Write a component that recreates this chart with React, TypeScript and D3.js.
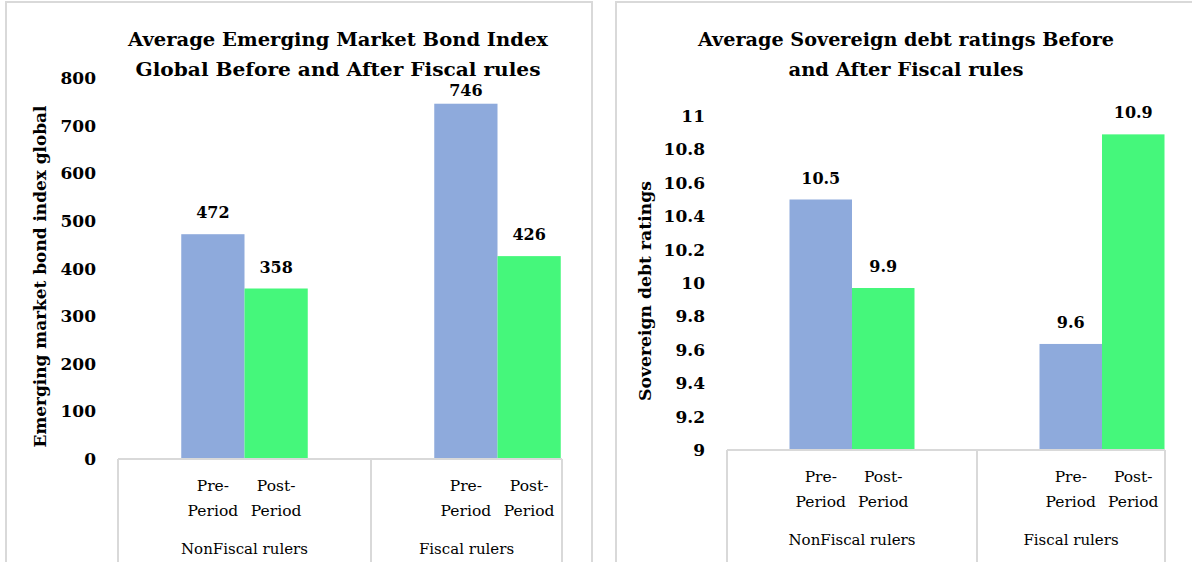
import React, { useEffect, useRef } from "react";
import * as d3 from "d3";

// groups and series shared by both charts
const groups = ["NonFiscal rulers", "Fiscal rulers"];
const periods = ["Pre-", "Post-"];
const colors = ["#8eaadc", "#45f77b"];

// chart 1: Emerging market bond index global
const embiPre = [472, 746];
const embiPost = [358, 426];
const embiTicks = [0, 100, 200, 300, 400, 500, 600, 700, 800];

// chart 2: Sovereign debt ratings
const ratingPre = [10.5, 9.635];
const ratingPost = [9.97, 10.89];
const ratingLabelsPre = ["10.5", "9.6"];
const ratingLabelsPost = ["9.9", "10.9"];
const ratingTicks = [9, 9.2, 9.4, 9.6, 9.8, 10, 10.2, 10.4, 10.6, 10.8, 11];

const FONT = "'DejaVu Serif', serif";
const GRID = "#d9d9d9";

type PanelProps = {
  left: number;
  right: number;
  title: string[];
  titleWidth: number[];
  titleX: number;
  yTitle: string;
  yTitleX: number;
  yTitleLen: number;
  tickX: number;
  ticks: number[];
  tickFmt: (v: number) => string;
  domain: [number, number];
  yRange: [number, number];
  xStart: number;
  step: number;
  clipRight: number;
  labelMin: number;
  pre: number[];
  post: number[];
  preLabels: string[];
  postLabels: string[];
};

function drawPanel(g: d3.Selection<SVGGElement, unknown, null, undefined>, p: PanelProps) {
  // panel frame
  g.append("rect")
    .attr("x", p.left)
    .attr("y", 2)
    .attr("width", p.right - p.left)
    .attr("height", 600)
    .attr("fill", "#fff")
    .attr("stroke", GRID)
    .attr("stroke-width", 2);

  // title
  p.title.forEach((line, i) => {
    g.append("text")
      .attr("x", p.titleX)
      .attr("y", 46 + i * 30)
      .attr("text-anchor", "middle")
      .attr("textLength", p.titleWidth[i])
      .attr("lengthAdjust", "spacingAndGlyphs")
      .style("font-family", FONT)
      .style("font-size", "18px")
      .style("font-weight", "bold")
      .text(line);
  });

  const y = d3.scaleLinear().domain(p.domain).range(p.yRange);
  const x = d3
    .scaleBand()
    .domain(groups)
    .range([p.xStart, p.xStart + p.step * groups.length]);
  const xs = d3
    .scaleBand()
    .domain(periods)
    .range([0, x.bandwidth()])
    .paddingOuter(1)
    .paddingInner(0);

  // y tick labels
  g.selectAll(null)
    .data(p.ticks)
    .enter()
    .append("text")
    .attr("x", p.tickX)
    .attr("y", (d) => y(d) + 6)
    .attr("text-anchor", "end")
    .style("font-family", FONT)
    .style("font-size", "17px")
    .style("font-weight", "bold")
    .text((d) => p.tickFmt(d));

  // y axis title
  const yMid = (p.yRange[0] + p.yRange[1]) / 2 + 8;
  g.append("text")
    .attr("transform", `translate(${p.yTitleX},${yMid}) rotate(-90)`)
    .attr("text-anchor", "middle")
    .attr("textLength", p.yTitleLen)
    .attr("lengthAdjust", "spacingAndGlyphs")
    .style("font-family", FONT)
    .style("font-size", "17px")
    .style("font-weight", "bold")
    .text(p.yTitle);

  const base = y(p.domain[0]);

  // bars + labels
  const series = [
    { vals: p.pre, labels: p.preLabels, key: periods[0], color: colors[0] },
    { vals: p.post, labels: p.postLabels, key: periods[1], color: colors[1] },
  ];
  series.forEach((s) => {
    groups.forEach((grp, i) => {
      const bx = (x(grp) as number) + (xs(s.key) as number);
      const top = y(s.vals[i]);
      g.append("rect")
        .attr("x", bx)
        .attr("y", top)
        .attr("width", xs.bandwidth())
        .attr("height", base - top)
        .attr("fill", s.color);
      g.append("text")
        .attr("x", bx + xs.bandwidth() / 2)
        .attr("y", Math.max(top - 16, p.labelMin))
        .attr("text-anchor", "middle")
        .style("font-family", FONT)
        .style("font-size", "16px")
        .style("font-weight", "bold")
        .text(s.labels[i]);
      // category sub-labels
      const cx = bx + xs.bandwidth() / 2;
      g.append("text")
        .attr("x", cx)
        .attr("y", base + 32)
        .attr("text-anchor", "middle")
        .style("font-family", FONT)
        .style("font-size", "15.5px")
        .text(s.key);
      g.append("text")
        .attr("x", cx)
        .attr("y", base + 57)
        .attr("text-anchor", "middle")
        .style("font-family", FONT)
        .style("font-size", "15.5px")
        .text("Period");
    });
  });

  // category axis box
  g.append("line")
    .attr("x1", p.xStart)
    .attr("x2", p.clipRight)
    .attr("y1", base)
    .attr("y2", base)
    .attr("stroke", GRID)
    .attr("stroke-width", 2);
  const dividers = [p.xStart, ...groups.slice(1).map((d) => x(d) as number), p.clipRight];
  dividers.forEach((dx) => {
    g.append("line")
      .attr("x1", dx)
      .attr("x2", dx)
      .attr("y1", base)
      .attr("y2", 562)
      .attr("stroke", GRID)
      .attr("stroke-width", 2);
  });
  groups.forEach((grp, i) => {
    const a = dividers[i];
    const b = dividers[i + 1];
    g.append("text")
      .attr("x", (a + b) / 2)
      .attr("y", base + 95)
      .attr("text-anchor", "middle")
      .style("font-family", FONT)
      .style("font-size", "15px")
      .text(grp);
  });
}

const App = () => {
  const svgRef = useRef<SVGSVGElement>(null);

  useEffect(() => {
    const svg = d3.select(svgRef.current as SVGSVGElement);
    svg.selectAll("*").remove();
    svg.append("rect").attr("width", 1192).attr("height", 562).attr("fill", "#fff");

    drawPanel(svg.append("g"), {
      left: 6,
      right: 592,
      title: ["Average  Emerging  Market  Bond  Index", "Global  Before  and  After  Fiscal  rules"],
      titleWidth: [420, 405],
      titleX: 338,
      yTitle: "Emerging market bond index global",
      yTitleX: 46,
      yTitleLen: 342,
      tickX: 96,
      ticks: embiTicks,
      tickFmt: (v) => String(v),
      domain: [0, 800],
      yRange: [459, 78],
      xStart: 118,
      step: 253,
      clipRight: 562,
      labelMin: 96,
      pre: embiPre,
      post: embiPost,
      preLabels: embiPre.map(String),
      postLabels: embiPost.map(String),
    });

    drawPanel(svg.append("g"), {
      left: 616,
      right: 1200,
      title: ["Average  Sovereign  debt  ratings  Before", "and  After  Fiscal  rules"],
      titleWidth: [416, 235],
      titleX: 906,
      yTitle: "Sovereign debt ratings",
      yTitleX: 651,
      yTitleLen: 220,
      tickX: 705,
      ticks: ratingTicks,
      tickFmt: (v) => d3.format("~g")(v),
      domain: [9, 11],
      yRange: [450, 116],
      xStart: 727,
      step: 250,
      clipRight: 1165,
      labelMin: 0,
      pre: ratingPre,
      post: ratingPost,
      preLabels: ratingLabelsPre,
      postLabels: ratingLabelsPost,
    });
  }, []);

  return (
    <svg
      ref={svgRef}
      width={1192}
      height={562}
      style={{ position: "absolute", left: 0, top: 0 }}
    ></svg>
  );
};

export default App;
